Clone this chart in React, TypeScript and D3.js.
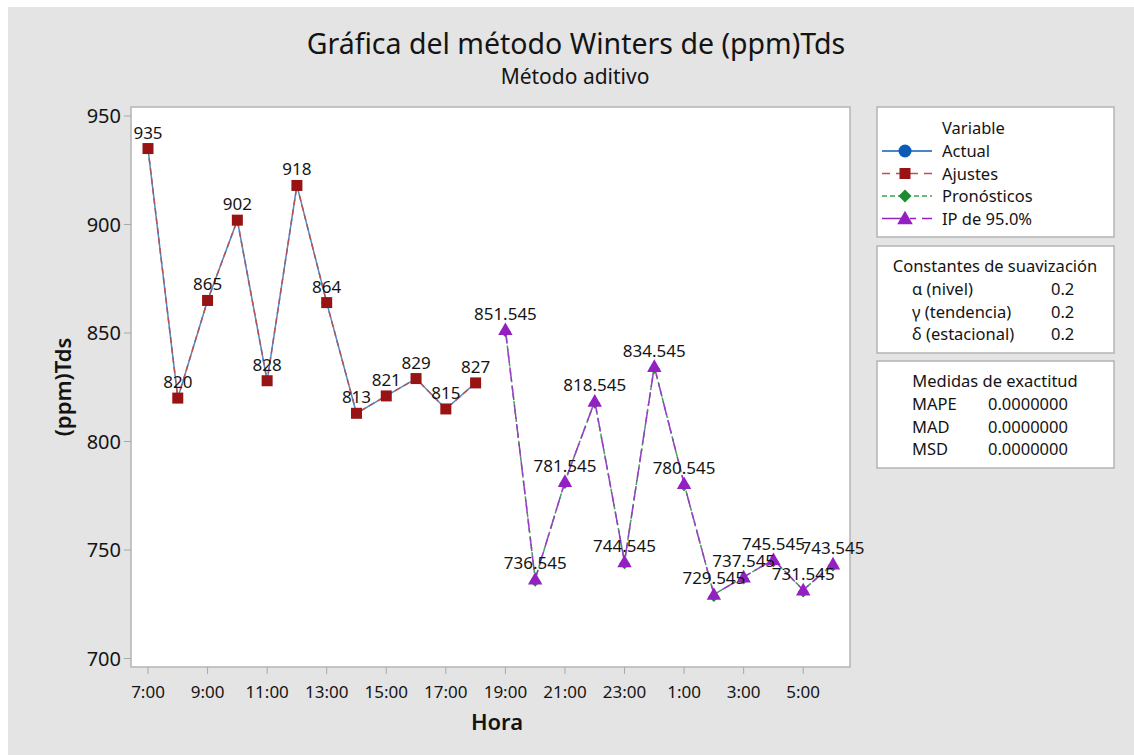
import * as d3 from 'd3';

const hours = [
  '7:00', '8:00', '9:00', '10:00', '11:00', '12:00', '13:00', '14:00',
  '15:00', '16:00', '17:00', '18:00', '19:00', '20:00', '21:00', '22:00',
  '23:00', '0:00', '1:00', '2:00', '3:00', '4:00', '5:00', '6:00',
];
const tickHours = ['7:00', '9:00', '11:00', '13:00', '15:00', '17:00', '19:00', '21:00', '23:00', '1:00', '3:00', '5:00'];
const yTicks = [700, 750, 800, 850, 900, 950];

const actual = [935, 820, 865, 902, 828, 918, 864, 813, 821, 829, 815, 827];
const fits = [935, 820, 865, 902, 828, 918, 864, 813, 821, 829, 815, 827];
const forecast = [851.545, 736.545, 781.545, 818.545, 744.545, 834.545, 780.545, 729.545, 737.545, 745.545, 731.545, 743.545];
const piBand = [851.545, 736.545, 781.545, 818.545, 744.545, 834.545, 780.545, 729.545, 737.545, 745.545, 731.545, 743.545];

const smoothing = [
  { label: 'α (nivel)', value: '0.2' },
  { label: 'γ (tendencia)', value: '0.2' },
  { label: 'δ (estacional)', value: '0.2' },
];
const accuracy = [
  { label: 'MAPE', value: '0.0000000' },
  { label: 'MAD', value: '0.0000000' },
  { label: 'MSD', value: '0.0000000' },
];

const C = {
  actual: '#0b5cb8',
  actualLine: '#3f8fd8',
  fits: '#981414',
  fitsLine: '#c0504d',
  fc: '#1c8c32',
  fcLine: '#3aa84e',
  pi: '#9420c4',
  piLine: '#9a3cc8',
};

const font = "'Noto Sans', 'Open Sans', sans-serif";
const ink = '#141414';

const frame = { left: 131, top: 107, right: 850, bottom: 667 };

const x = d3.scaleLinear().domain([0, 23]).range([148, 833]);
const y = d3.scaleLinear().domain([700, 950]).range([658.5, 116]);

type Pt = { i: number; v: number };

const actualPts: Pt[] = actual.map((v, i) => ({ i, v }));
const fitPts: Pt[] = fits.map((v, i) => ({ i, v }));
const fcPts: Pt[] = forecast.map((v, k) => ({ i: k + actual.length, v }));
const piPts: Pt[] = piBand.map((v, k) => ({ i: k + actual.length, v }));

const line = d3.line<Pt>().x(d => x(d.i)).y(d => y(d.v));

const fmt = (v: number) => (Number.isInteger(v) ? String(v) : v.toFixed(3));

const square = (cx: number, cy: number, s: number, fill: string) => (
  <rect x={cx - s / 2} y={cy - s / 2} width={s} height={s} fill={fill} />
);
const triangle = (cx: number, cy: number, s: number, fill: string) => (
  <path d={`M${cx},${cy - s * 0.6}L${cx + s * 0.6},${cy + s * 0.45}L${cx - s * 0.6},${cy + s * 0.45}Z`} fill={fill} />
);
const diamond = (cx: number, cy: number, s: number, fill: string) => (
  <path d={`M${cx},${cy - s / 2}L${cx + s / 2},${cy}L${cx},${cy + s / 2}L${cx - s / 2},${cy}Z`} fill={fill} />
);

const LegendBox = ({ x0, y0, w, h, children }: { x0: number; y0: number; w: number; h: number; children: any }) => (
  <g>
    <rect x={x0} y={y0} width={w} height={h} fill="#fff" stroke="#b4b4b4" strokeWidth={1.5} />
    {children}
  </g>
);

export default function App() {
  const legendItems = [
    { name: 'Actual', color: C.actual, lineColor: C.actual, dash: undefined, mark: 'circle' },
    { name: 'Ajustes', color: C.fits, lineColor: C.fitsLine, dash: '8,6', mark: 'square' },
    { name: 'Pronósticos', color: C.fc, lineColor: C.fcLine, dash: '5,3', mark: 'diamond' },
    { name: 'IP de 95.0%', color: C.pi, lineColor: C.pi, dash: '22,6,6,6', mark: 'triangle' },
  ];

  return (
    <svg
      width={1134}
      height={755}
      style={{ position: 'fixed', left: 0, top: 0, fontFamily: font }}
    >
      <rect x={0} y={0} width={1134} height={755} fill="#fff" />
      <rect x={8} y={7} width={1126} height={748} fill="#e4e4e4" />

      {/* titles */}
      <text x={576} y={54} textAnchor="middle" fontSize={28.5} fill={ink}>
        Gráfica del método Winters de (ppm)Tds
      </text>
      <text x={575} y={84} textAnchor="middle" fontSize={21} fill={ink}>
        Método aditivo
      </text>

      {/* plot frame */}
      <rect
        x={frame.left}
        y={frame.top}
        width={frame.right - frame.left}
        height={frame.bottom - frame.top}
        fill="#fff"
        stroke="#b4b4b4"
        strokeWidth={1.5}
      />

      {/* y axis */}
      {yTicks.map(t => (
        <g key={t}>
          <line x1={frame.left - 7} x2={frame.left} y1={y(t)} y2={y(t)} stroke="#a8a8a8" />
          <text x={frame.left - 10} y={y(t) + 7} textAnchor="end" fontSize={20} fill={ink}>
            {t}
          </text>
        </g>
      ))}
      <text
        transform={`translate(71,${(frame.top + frame.bottom) / 2}) rotate(-90)`}
        textAnchor="middle"
        fontSize={22}
        fontWeight={600}
        fill={ink}
      >
        (ppm)Tds
      </text>

      {/* x axis */}
      {tickHours.map(h => {
        const i = hours.indexOf(h);
        return (
          <g key={h}>
            <line x1={x(i)} x2={x(i)} y1={frame.bottom} y2={frame.bottom + 7} stroke="#a8a8a8" />
            <text x={x(i)} y={frame.bottom + 31} textAnchor="middle" fontSize={17} fill={ink}>
              {h}
            </text>
          </g>
        );
      })}
      <text x={497} y={730} textAnchor="middle" fontSize={22} fontWeight={600} fill={ink}>
        Hora
      </text>

      {/* series lines */}
      <path d={line(actualPts) || ''} fill="none" stroke={C.actualLine} strokeWidth={1.5} />
      <path d={line(fitPts) || ''} fill="none" stroke={C.fitsLine} strokeWidth={1.5} strokeDasharray="6,4" />
      <path d={line(fcPts) || ''} fill="none" stroke={C.fcLine} strokeWidth={1.5} strokeDasharray="5,3" />
      <path d={line(piPts) || ''} fill="none" stroke={C.piLine} strokeWidth={1.5} strokeDasharray="14,5" />

      {/* markers */}
      {actualPts.map(d => (
        <circle key={`a${d.i}`} cx={x(d.i)} cy={y(d.v)} r={5} fill={C.actual} />
      ))}
      {fitPts.map(d => <g key={`f${d.i}`}>{square(x(d.i), y(d.v), 11, C.fits)}</g>)}
      {fcPts.map(d => <g key={`p${d.i}`}>{diamond(x(d.i), y(d.v) + 2, 11, C.fc)}</g>)}
      {piPts.map(d => <g key={`t${d.i}`}>{triangle(x(d.i), y(d.v), 12, C.pi)}</g>)}

      {/* data labels */}
      {[...actualPts, ...fcPts].map(d => (
        <text key={`l${d.i}`} x={x(d.i)} y={y(d.v) - 10} textAnchor="middle" fontSize={17} fill={ink}>
          {fmt(d.v)}
        </text>
      ))}

      {/* legend */}
      <LegendBox x0={877} y0={107} w={237} h={130}>
        <text x={942} y={134} fontSize={16.5} fill={ink}>Variable</text>
        {legendItems.map((it, k) => {
          const ly = 151 + k * 22.5;
          return (
            <g key={it.name}>
              <line x1={882} x2={932} y1={ly} y2={ly} stroke={it.lineColor} strokeWidth={1.5} strokeDasharray={it.dash} />
              {it.mark === 'circle' && <circle cx={905} cy={ly} r={6.5} fill={it.color} />}
              {it.mark === 'square' && square(905, ly, 11, it.color)}
              {it.mark === 'diamond' && diamond(905, ly, 13, it.color)}
              {it.mark === 'triangle' && triangle(905, ly, 13, it.color)}
              <text x={942} y={ly + 6} fontSize={16.5} fill={ink}>{it.name}</text>
            </g>
          );
        })}
      </LegendBox>

      <LegendBox x0={877} y0={246} w={237} h={107}>
        <text x={995} y={272} textAnchor="middle" fontSize={16.5} fill={ink}>
          Constantes de suavización
        </text>
        {smoothing.map((r, k) => (
          <g key={r.label}>
            <text x={912} y={295 + k * 22.5} fontSize={16.5} fill={ink}>{r.label}</text>
            <text x={1051} y={295 + k * 22.5} fontSize={16.5} fill={ink}>{r.value}</text>
          </g>
        ))}
      </LegendBox>

      <LegendBox x0={877} y0={361} w={237} h={107}>
        <text x={995} y={387} textAnchor="middle" fontSize={16.5} fill={ink}>
          Medidas de exactitud
        </text>
        {accuracy.map((r, k) => (
          <g key={r.label}>
            <text x={912} y={410 + k * 22.5} fontSize={16.5} fill={ink}>{r.label}</text>
            <text x={988} y={410 + k * 22.5} fontSize={16.5} fill={ink}>{r.value}</text>
          </g>
        ))}
      </LegendBox>
    </svg>
  );
}
